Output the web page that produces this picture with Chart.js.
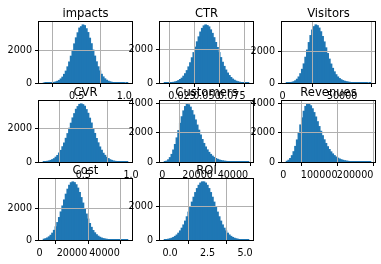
<!DOCTYPE html>
<html>
<head>
<meta charset="utf-8">
<script src="https://cdn.jsdelivr.net/npm/chart.js@4.4.1/dist/chart.umd.min.js"></script>
<style>
  body { margin: 0; background: #fff; width: 381px; height: 264px; overflow: hidden; position: relative; }
  canvas { position: absolute; }
</style>
</head>
<body>
<script>
// histogram counts (50 bins each, between the range edges)
const impactsCounts = [0,1,3,6,13,22,38,64,104,158,248,360,530,728,990,1290,1645,2005,2400,2770,3080,3370,3455,3565,3520,3330,3095,2750,2410,2020,1650,1300,995,740,535,375,255,170,110,70,42,24,13,7,4,2,1,1,0,1]
const ctrCounts = [4,6,10,15,25,40,62,95,145,210,290,410,560,745,970,1220,1520,1830,2160,2480,2780,3070,3290,3440,3500,3460,3380,3200,2990,2730,2440,2140,1830,1530,1250,1000,780,600,450,330,235,165,112,75,50,32,20,12,7,4]
const visitorsCounts = [5,11,23,43,80,140,236,380,585,860,1200,1620,2070,2540,2980,3330,3540,3650,3600,3450,3220,2920,2580,2210,1850,1500,1190,920,700,520,380,280,205,150,110,82,60,44,32,23,16,11,8,5,4,2,2,1,0,1]
const cvrCounts = [15,27,41,60,96,141,196,287,388,534,690,908,1130,1410,1690,2010,2310,2625,2880,3140,3300,3430,3460,3415,3320,3120,2900,2610,2320,1995,1700,1398,1140,895,700,520,395,280,205,135,96,60,41,25,17,9,6,3,2,1]
const customersCounts = [20,60,150,300,520,820,1200,1650,2150,2650,3100,3500,3800,3980,3920,3760,3520,3220,2880,2530,2180,1850,1540,1270,1030,830,660,520,405,315,240,185,140,105,80,60,45,33,25,18,13,10,7,5,4,3,2,2,1,1]
const revenuesCounts = [50,120,240,430,700,1060,1500,2000,2520,3000,3450,3780,3950,3930,3820,3620,3360,3060,2740,2410,2090,1790,1510,1260,1040,850,690,550,435,340,265,205,155,118,88,66,48,35,26,19,14,10,7,5,4,3,2,2,1,1]
const costCounts = [51,83,132,202,302,438,617,842,1117,1438,1796,2179,2566,2933,3254,3505,3665,3720,3673,3537,3322,3041,2715,2364,2007,1662,1341,1056,810,606,460,340,245,175,125,90,65,47,34,24,17,12,8,5,3,2,2,1,1,1]
const roiCounts = [20,31,48,72,106,153,218,300,410,545,710,905,1135,1395,1675,1975,2275,2570,2850,3090,3285,3420,3490,3490,3420,3285,3090,2850,2570,2275,1975,1675,1395,1135,905,710,545,410,300,218,153,106,72,48,31,20,12,8,5,3]

// data range (first and last bin edge) of each column
const impactsRange = [0.148, 1.037]
const ctrRange = [0.0072, 0.092]
const visitorsRange = [3145, 74000]
const cvrRange = [0.08, 0.966]
const customersRange = [1100, 49000]
const revenuesRange = [8200, 243700]
const costRange = [2300, 54300]
const roiRange = [-0.385, 5.25]

// tick labels
const impactsXTicks = ['0.5', '1.0']
const ctrXTicks = ['0.025', '0.050', '0.075']
const visitorsXTicks = ['0', '50000']
const cvrXTicks = ['0.5', '1.0']
const customersXTicks = ['0', '20000', '40000']
const revenuesXTicks = ['0', '100000', '200000']
const costXTicks = ['0', '20000', '40000']
const roiXTicks = ['0.0', '2.5', '5.0']
const yTicksShort = ['0', '2000']
const yTicksLong = ['0', '2000', '4000']

const panels = [
  { title: 'impacts', counts: impactsCounts, range: impactsRange, xt: impactsXTicks, yt: yTicksShort },
  { title: 'CTR', counts: ctrCounts, range: ctrRange, xt: ctrXTicks, yt: yTicksShort },
  { title: 'Visitors', counts: visitorsCounts, range: visitorsRange, xt: visitorsXTicks, yt: yTicksShort },
  { title: 'CVR', counts: cvrCounts, range: cvrRange, xt: cvrXTicks, yt: yTicksShort },
  { title: 'Customers', counts: customersCounts, range: customersRange, xt: customersXTicks, yt: yTicksLong },
  { title: 'Revenues', counts: revenuesCounts, range: revenuesRange, xt: revenuesXTicks, yt: yTicksLong },
  { title: 'Cost', counts: costCounts, range: costRange, xt: costXTicks, yt: yTicksShort },
  { title: 'ROI', counts: roiCounts, range: roiRange, xt: roiXTicks, yt: yTicksShort }
]

// layout of the 3x3 grid (axes boxes)
const colLeft = [39, 160, 282]
const rowTop = [22, 101, 179]
const axW = 93, axH = 61
const padL = 42, padT = 24, padR = 24, padB = 22

Chart.defaults.font.family = '"DejaVu Sans", sans-serif'
Chart.defaults.font.size = 9.6
Chart.defaults.color = '#000'

// black frame round the axes + title above, matplotlib style
const frame = {
  id: 'frame',
  afterDraw (chart, args, opts) {
    const { ctx, chartArea: a } = chart
    ctx.save()
    ctx.strokeStyle = '#000'
    ctx.lineWidth = 1
    ctx.strokeRect(a.left - 0.5, a.top - 0.5, a.width + 1, a.height + 1)
    ctx.fillStyle = '#000'
    ctx.font = '11.6px "DejaVu Sans", sans-serif'
    ctx.textAlign = 'center'
    ctx.textBaseline = 'alphabetic'
    ctx.fillText(opts.title, (a.left + a.right) / 2, a.top - 5)
    ctx.restore()
  }
}

panels.forEach((p, k) => {
  const col = k % 3
  const row = Math.floor(k / 3)
  const canvas = document.createElement('canvas')
  canvas.width = padL + axW + padR
  canvas.height = padT + axH + padB
  canvas.style.left = (colLeft[col] - padL) + 'px'
  canvas.style.top = (rowTop[row] - padT) + 'px'
  document.body.appendChild(canvas)

  const [lo, hi] = p.range
  const bw = (hi - lo) / p.counts.length
  const span = hi - lo
  const xVals = p.xt.map(parseFloat)
  const yVals = p.yt.map(parseFloat)

  new Chart(canvas, {
    type: 'bar',
    data: {
      datasets: [{
        data: p.counts.map((c, i) => ({ x: lo + (i + 0.5) * bw, y: c })),
        backgroundColor: '#1f77b4',
        borderWidth: 0,
        inflateAmount: 0.5,
        barPercentage: 1,
        categoryPercentage: 1
      }]
    },
    options: {
      responsive: false,
      animation: false,
      devicePixelRatio: 1,
      layout: { padding: { left: 0, top: padT, right: padR, bottom: 0 } },
      plugins: {
        legend: { display: false },
        tooltip: { enabled: false },
        frame: { title: p.title }
      },
      scales: {
        x: {
          type: 'linear',
          min: lo - 0.05 * span,
          max: hi + 0.05 * span,
          offset: false,
          grid: { color: '#b0b0b0', tickColor: '#000', tickLength: 4, z: 1 },
          border: { display: false },
          ticks: {
            autoSkip: false, maxRotation: 0, padding: 4,
            callback: (v, i) => p.xt[i]
          },
          afterBuildTicks: s => { s.ticks = xVals.map(v => ({ value: v })) },
          afterFit: s => { s.height = padB }
        },
        y: {
          min: 0,
          max: Math.max(...p.counts) * 1.05,
          grid: { color: '#b0b0b0', tickColor: '#000', tickLength: 4, z: 1 },
          border: { display: false },
          ticks: {
            autoSkip: false, padding: 3,
            callback: (v, i) => p.yt[i]
          },
          afterBuildTicks: s => { s.ticks = yVals.map(v => ({ value: v })) },
          afterFit: s => { s.width = padL }
        }
      }
    },
    plugins: [frame]
  })
})
</script>
</body>
</html>
